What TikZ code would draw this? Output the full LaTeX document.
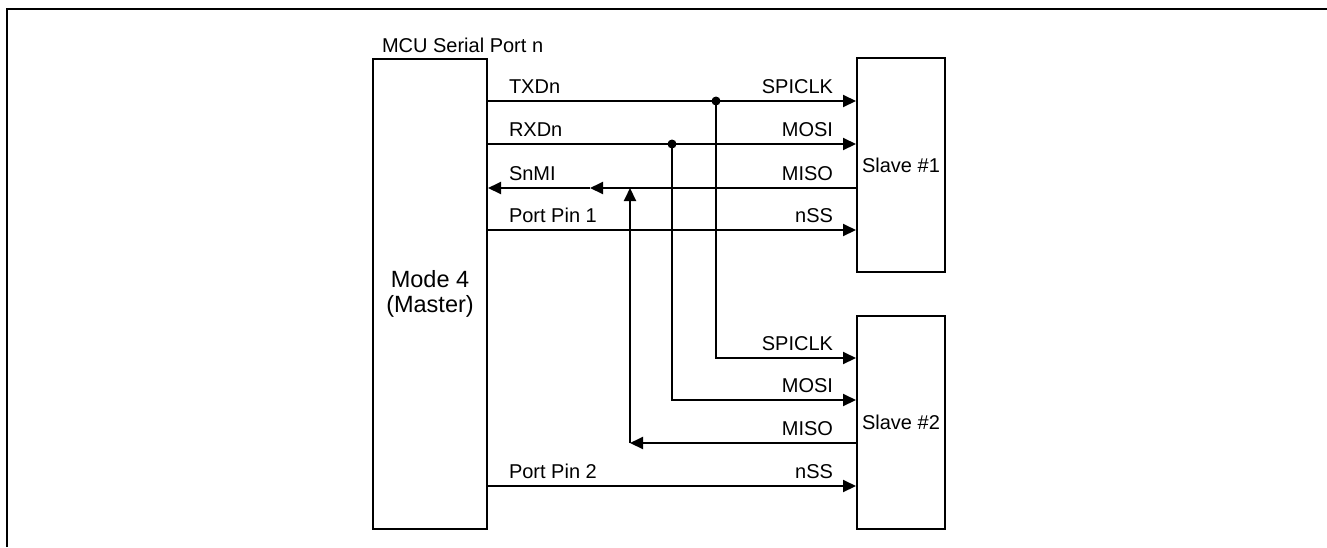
\documentclass[tikz,border=0pt]{standalone}
\usepackage{fontspec}
\setmainfont{Liberation Sans}
\usetikzlibrary{arrows.meta}
\begin{document}
\begin{tikzpicture}[x=1pt,y=-1pt,line width=2pt,
  box/.style={draw,line width=2pt,inner sep=0pt,minimum width=#1},
  sig/.style={-{Triangle[length=13pt,width=12pt]}},
  dot/.style={circle,fill,inner sep=0pt,minimum size=9pt},
  lbl/.style={font=\fontsize{20}{24}\selectfont,inner sep=0pt},
  lleft/.style={lbl,anchor=base west},
  lright/.style={lbl,anchor=base east}]
\useasboundingbox (0,0) rectangle (1327,547);
% open frame
\draw (7,547) -- (7,9) -- (1327,9);
% blocks
\node[box=114pt,minimum height=470pt,align=center,
      font=\fontsize{23.5}{25}\selectfont] (master) at (430,294) {Mode 4\\(Master)};
\node[box=88pt,minimum height=214pt,font=\fontsize{20}{24}\selectfont] (s1) at (901,165) {Slave \#1};
\node[box=88pt,minimum height=213pt,font=\fontsize{20}{24}\selectfont] (s2) at (901,422.5) {Slave \#2};
\node[lleft] (title) at (381,52) {MCU Serial Port n};
% rows
\coordinate (r1) at (0,101);
\coordinate (r2) at (0,144);
\coordinate (r3) at (0,188);
\coordinate (r4) at (0,230);
\coordinate (r5) at (0,358);
\coordinate (r6) at (0,400);
\coordinate (r7) at (0,443);
\coordinate (r8) at (0,486);
% junctions
\node[dot] (j1) at (716,101) {};
\node[dot] (j2) at (672,144) {};
\coordinate (m1) at (590,188);
\coordinate (up) at (630,188);
\coordinate (cor) at (630,443);
% slave 1 connections
\draw[sig] (master.east |- r1) -- (s1.west |- r1);
\draw[sig] (master.east |- r2) -- (s1.west |- r2);
\draw[sig] (s1.west |- r3) -- (m1);
\draw[sig] (m1) -- (master.east |- r3);
\draw[sig] (master.east |- r4) -- (s1.west |- r4);
% slave 2 connections
\draw[sig] (j1.center) |- (s2.west |- r5);
\draw[sig] (j2.center) |- (s2.west |- r6);
\draw[sig] (s2.west |- r7) -- (cor);
\draw[sig] (cor) -- (up);
\draw[sig] (master.east |- r8) -- (s2.west |- r8);
% labels
\node[lleft] (tx) at (508,93) {TXDn};
\node[lleft] (rx) at (508,136) {RXDn};
\node[lleft] (mi) at (508,180) {SnMI};
\node[lleft] (p1) at (508,222) {Port Pin 1};
\node[lleft] (p2) at (508,478) {Port Pin 2};
\node[lright] (a1) at (834,93) {SPICLK};
\node[lright] (a2) at (834,136) {MOSI};
\node[lright] (a3) at (834,180) {MISO};
\node[lright] (a4) at (834,222) {nSS};
\node[lright] (b1) at (834,350) {SPICLK};
\node[lright] (b2) at (834,392) {MOSI};
\node[lright] (b3) at (834,435) {MISO};
\node[lright] (b4) at (834,478) {nSS};
\end{tikzpicture}
\end{document}
